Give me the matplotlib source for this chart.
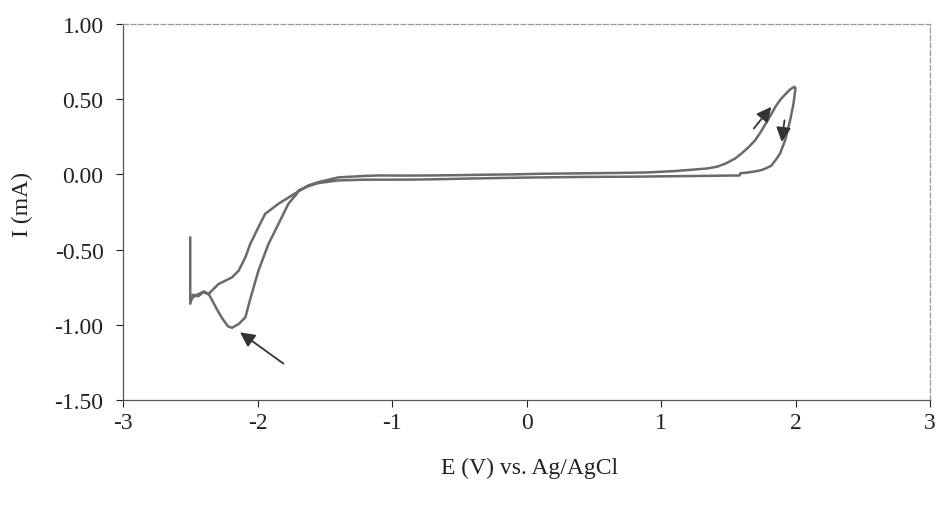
import matplotlib
matplotlib.use("Agg")
import matplotlib.pyplot as plt
from matplotlib.ticker import FixedLocator, FuncFormatter

plt.rcParams['font.family'] = ['Liberation Serif', 'DejaVu Serif']
plt.rcParams['axes.unicode_minus'] = False

# Forward scan (E increasing)
E_fwd = [-2.50, -2.50, -2.48, -2.44, -2.40, -2.364, -2.29, -2.19, -2.14, -2.09, -2.054,
         -1.993, -1.943, -1.844, -1.745, -1.621, -1.546, -1.40, -1.30, -1.20, -1.10, -0.90,
         -0.70, -0.50, -0.30, -0.10, 0.10, 0.30, 0.50, 0.70, 0.90, 1.10, 1.23, 1.35,
         1.42, 1.48, 1.55, 1.60, 1.65, 1.70, 1.74, 1.78, 1.82, 1.85, 1.89,
         1.93, 1.96, 1.99, 2.00]
I_fwd = [-0.42, -0.86, -0.80, -0.81, -0.78, -0.795, -0.729, -0.685, -0.640, -0.551, -0.462,
         -0.351, -0.262, -0.195, -0.140, -0.073, -0.051, -0.020, -0.015, -0.010, -0.007, -0.008,
         -0.007, -0.005, -0.002, 0.000, 0.004, 0.006, 0.008, 0.010, 0.013, 0.022, 0.031, 0.040,
         0.052, 0.072, 0.105, 0.140, 0.180, 0.227, 0.280, 0.340, 0.400, 0.449, 0.500,
         0.538, 0.565, 0.582, 0.575]

# Reverse scan (E decreasing)
E_rev = [2.00, 1.985, 1.96, 1.923, 1.886, 1.86, 1.82, 1.78, 1.74, 1.70, 1.64, 1.59,
         1.585, 1.40, 1.20, 1.00, 0.80, 0.60, 0.40, 0.20, 0.00, -0.20, -0.40, -0.60,
         -0.80, -1.00, -1.20, -1.40, -1.55, -1.62, -1.695, -1.708, -1.77, -1.844, -1.918,
         -1.993, -2.054, -2.09, -2.14, -2.19, -2.22, -2.26, -2.30, -2.36, -2.40, -2.45, -2.50]
I_rev = [0.575, 0.470, 0.360, 0.227, 0.140, 0.105, 0.058, 0.040, 0.027, 0.020, 0.012, 0.008,
         -0.007, -0.009, -0.011, -0.013, -0.015, -0.016, -0.017, -0.019, -0.021, -0.024, -0.027, -0.031,
         -0.034, -0.035, -0.035, -0.040, -0.058, -0.078, -0.107, -0.129, -0.195, -0.329, -0.462,
         -0.640, -0.829, -0.950, -0.995, -1.020, -1.010, -0.960, -0.900, -0.800, -0.780, -0.800, -0.830]

x_ticks = [-3, -2, -1, 0, 1, 2, 3]
y_ticks = [-1.50, -1.00, -0.50, 0.00, 0.50, 1.00]

# Annotation arrows: (tail_E, tail_I, head_E, head_I)
arrows = [(-1.807, -1.258, -2.13, -1.05),
          (1.69, 0.305, 1.82, 0.449),
          (1.918, 0.36, 1.898, 0.215)]

fig = plt.figure(figsize=(9.38, 5.06), dpi=100)
ax = fig.add_axes([123/938, 105/506, 807/938, 376/506])

ax.plot(E_fwd + E_rev, I_fwd + I_rev, color='#6a6a6a', lw=1.8, solid_joinstyle='round')

for (xt, yt, xh, yh) in arrows:
    ax.annotate('', xy=(xh, yh), xytext=(xt, yt),
                arrowprops=dict(arrowstyle='-|>', mutation_scale=22, lw=1.3,
                                color='#333333', shrinkA=0, shrinkB=0))

ax.set_xlim(-3, 3)
ax.set_ylim(-1.5, 1.0)
ax.xaxis.set_major_locator(FixedLocator(x_ticks))
ax.yaxis.set_major_locator(FixedLocator(y_ticks))
ax.xaxis.set_major_formatter(FuncFormatter(lambda v, p: f"{v:.0f}".replace('\u2212', '-')))
ax.yaxis.set_major_formatter(FuncFormatter(lambda v, p: f"{v:.2f}"))
ax.tick_params(axis='both', direction='out', labelsize=17, colors='#222222',
               width=0.8, length=5)
ax.tick_params(axis='x', pad=4)
ax.tick_params(axis='y', pad=9)
for t in ax.get_xticklabels() + ax.get_yticklabels():
    t.set_color('#222222')

for s in ['left', 'bottom']:
    ax.spines[s].set_color('#555555')
    ax.spines[s].set_linewidth(0.9)
for s in ['top', 'right']:
    ax.spines[s].set_color('#999999')
    ax.spines[s].set_linewidth(0.9)
    ax.spines[s].set_linestyle((0, (4, 2)))

ax.set_xlabel('E (V) vs. Ag/AgCl', fontsize=17, color='#222222', va='center')
ax.xaxis.set_label_coords((530-123)/807, (401-468)/376)
ax.set_ylabel('I (mA)', fontsize=17, color='#222222', va='center')
ax.yaxis.set_label_coords((22-123)/807, (401-205)/376)

fig.savefig('out.png', dpi=100, facecolor='white')
